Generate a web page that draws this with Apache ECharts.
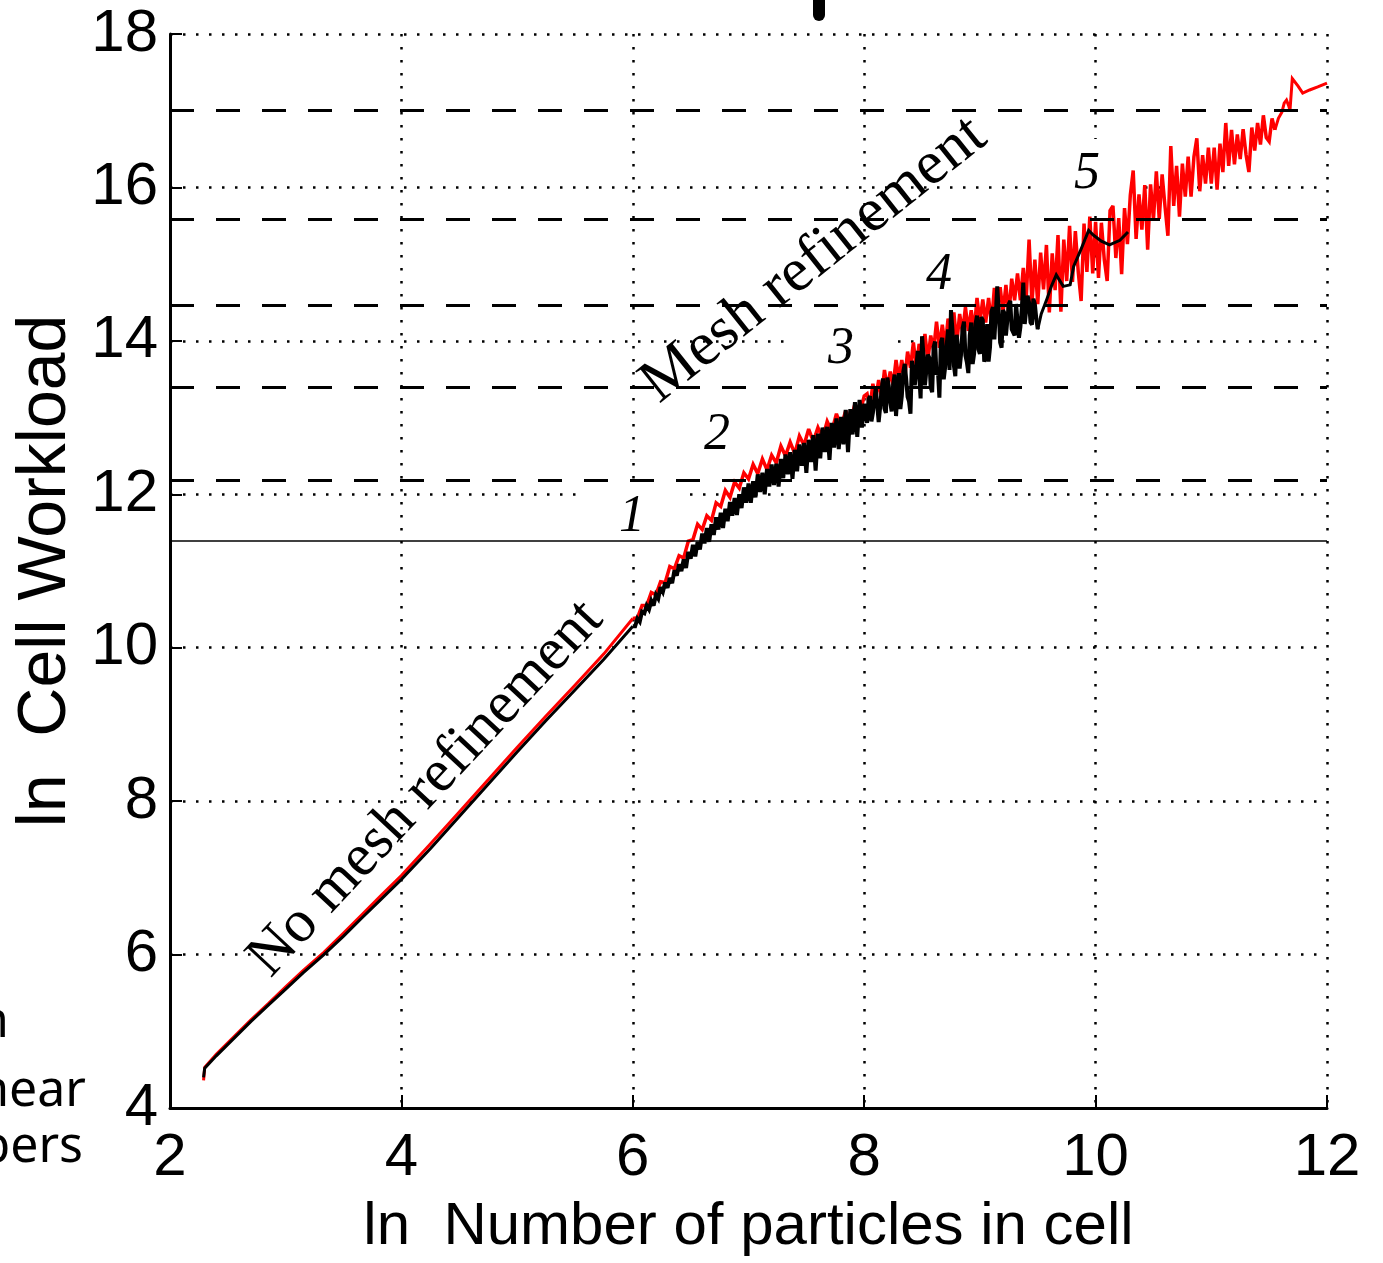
<!DOCTYPE html>
<html>
<head>
<meta charset="utf-8">
<script src="https://cdn.jsdelivr.net/npm/echarts@6/dist/echarts.min.js"></script>
<style>
  html, body { margin: 0; padding: 0; background: #ffffff; }
  #chart { width: 1383px; height: 1263px; }
</style>
</head>
<body>
<div id="chart"></div>
<script>
// Axis ranges (natural-log scales)
const xRange = [2, 12];
const yRange = [4, 18];
const tickStep = 2;

// Horizontal reference levels: dashed refinement thresholds and the solid base level
const refineLevels = [17.0, 15.58, 14.46, 13.40, 12.18];
const baseLevel = 11.40;
const stageNames = ['1', '2', '3', '4', '5'];

// Low-count region: explicit samples (x shared by both series)
const lowX      = [2.29, 2.30, 2.4, 2.5, 2.6, 2.7, 2.85, 3.0, 3.15, 3.33, 3.5, 3.66, 3.83, 4.0, 4.25, 4.5, 4.75, 5.0, 5.25, 5.5, 5.75];
const blackLowY = [4.40, 4.52, 4.68, 4.83, 4.98, 5.13, 5.34, 5.55, 5.76, 6.00, 6.24, 6.48, 6.73, 6.98, 7.38, 7.80, 8.22, 8.64, 9.05, 9.45, 9.85];
const redLowY   = [4.36, 4.53, 4.70, 4.85, 5.00, 5.15, 5.36, 5.58, 5.79, 6.03, 6.28, 6.52, 6.78, 7.03, 7.44, 7.86, 8.28, 8.70, 9.11, 9.51, 9.92];

// Black mid region sampled every 0.02 from x = 6.00 to 8.00
const blackSteepStart = 6.0, blackSteepStep = 0.02;
const blackSteepY = [
  10.28, 10.28, 10.38, 10.34, 10.47, 10.45, 10.55, 10.50, 10.61, 10.55,
  10.69, 10.64, 10.79, 10.73, 10.85, 10.78, 10.91, 10.84, 11.01, 10.94,
  11.09, 11.00, 11.15, 11.04, 11.25, 11.16, 11.34, 11.19, 11.38, 11.28,
  11.49, 11.36, 11.56, 11.38, 11.61, 11.47, 11.70, 11.54, 11.76, 11.56,
  11.81, 11.65, 11.90, 11.72, 11.95, 11.73, 12.00, 11.82, 12.09, 11.89,
  12.14, 11.89, 12.17, 11.96, 12.26, 12.03, 12.28, 12.00, 12.33, 12.10,
  12.39, 12.12, 12.40, 12.10, 12.46, 12.21, 12.52, 12.26, 12.55, 12.20,
  12.58, 12.30, 12.65, 12.37, 12.67, 12.28, 12.71, 12.42, 12.77, 12.31,
  12.79, 12.47, 12.87, 12.55, 12.88, 12.45, 12.93, 12.61, 12.99, 12.59,
  13.01, 12.65, 13.10, 12.55, 13.11, 12.78, 13.20, 12.75, 13.23, 12.87,
  13.18
];
// Black upper region sampled every 0.0125 from x = 8.0125 to 9.50
const blackFineStart = 8.0125, blackFineStep = 0.0125;
const blackFineY = [
  13.04, 12.93, 13.24, 13.28, 12.95, 13.06, 13.23, 13.39, 13.38, 12.94,
  13.13, 13.36, 13.51, 13.12, 13.06, 13.52, 13.41, 13.20, 13.08, 13.43,
  13.56, 13.02, 13.31, 13.58, 13.11, 13.28, 13.59, 13.70, 13.51, 13.27,
  13.21, 13.05, 13.74, 13.73, 13.42, 13.40, 13.87, 13.86, 13.25, 14.06,
  13.81, 13.42, 13.40, 13.82, 13.78, 13.39, 13.33, 13.92, 13.99, 13.56,
  13.60, 13.26, 13.98, 14.04, 13.50, 13.66, 13.94, 14.15, 13.62, 14.40,
  14.15, 13.68, 13.54, 14.08, 14.06, 13.64, 13.83, 14.16, 14.25, 13.81,
  13.72, 13.58, 14.07, 14.24, 13.70, 13.83, 14.22, 14.33, 13.89, 13.83,
  14.31, 14.27, 13.73, 13.79, 14.22, 13.73, 13.92, 14.38, 14.44, 14.02,
  14.03, 14.71, 14.39, 13.98, 13.91, 14.40, 14.36, 14.07, 14.05, 14.48,
  14.52, 14.15, 14.14, 14.07, 14.48, 14.50, 14.04, 14.18, 14.43, 14.76,
  14.22, 14.23, 14.59, 14.50, 14.24, 14.21, 14.55, 14.48, 14.29, 14.15
];

// Red mid region sampled every 0.04 from x = 6.00 to 8.00
const redSteepStart = 6.0, redSteepStep = 0.04;
const redSteepY = [
  10.38, 10.39, 10.55, 10.55, 10.72, 10.69, 10.86, 10.85, 11.06, 11.03,
  11.20, 11.17, 11.39, 11.41, 11.61, 11.54, 11.72, 11.66, 11.89, 11.84,
  12.05, 11.96, 12.16, 12.08, 12.28, 12.20, 12.39, 12.27, 12.46, 12.32,
  12.51, 12.41, 12.63, 12.50, 12.68, 12.53, 12.76, 12.64, 12.85, 12.69,
  12.87, 12.73, 12.95, 12.82, 13.05, 12.88, 13.09, 12.93, 13.18, 13.04,
  13.28
];
// Red upper region sampled every 0.025 from x = 8.025 to 11.55
const redFineStart = 8.025, redFineStep = 0.025;
const redFineY = [
  13.31, 13.13, 13.44, 13.25, 13.49, 13.26, 13.62, 13.38, 13.60, 13.42,
  13.75, 13.50, 13.75, 13.51, 13.86, 13.65, 13.98, 13.66, 13.96, 13.80,
  14.09, 13.74, 14.07, 13.88, 14.25, 13.91, 14.21, 13.93, 14.29, 14.05,
  14.37, 13.97, 14.35, 14.11, 14.44, 14.13, 14.40, 14.12, 14.56, 14.25,
  14.54, 14.24, 14.56, 14.22, 14.69, 14.42, 14.70, 14.37, 14.73, 14.33,
  14.81, 14.53, 14.88, 14.53, 14.95, 14.54
];
const redHighY = [
  15.32, 14.49, 15.06, 14.48, 15.15, 14.67, 15.25, 14.37, 15.14, 14.66,
  15.38, 14.38, 15.32, 14.78, 15.50, 14.77, 15.43, 14.90, 14.52, 15.53,
  14.90, 15.62, 14.88, 15.55, 14.82, 15.54, 15.06, 14.78, 15.70, 15.76,
  15.08, 15.60, 14.87, 15.73, 15.26, 15.90, 16.22, 15.33, 15.91, 15.45,
  16.03, 15.19, 16.04, 15.58, 16.21, 15.59, 16.17, 15.75, 15.37, 16.54,
  15.76, 16.28, 15.62, 16.31, 15.88, 16.40, 15.88, 16.40, 16.64, 15.95,
  16.42, 16.05, 16.52, 16.05, 16.52, 15.97, 16.57, 16.20, 16.84, 16.28,
  16.75, 16.30, 16.69, 16.37, 16.76, 16.43, 16.20, 16.78, 16.48, 16.84,
  16.56, 16.94, 16.65, 16.60, 16.90, 16.75
];

// Sparse tails
const blackTailX = [9.53, 9.58, 9.62, 9.66, 9.72, 9.78, 9.81, 9.87, 9.94, 9.98, 10.05, 10.12, 10.21, 10.28];
const blackTailY = [14.35, 14.55, 14.72, 14.86, 14.71, 14.73, 14.97, 15.18, 15.44, 15.38, 15.30, 15.25, 15.31, 15.42];
const redTailX = [11.58, 11.61, 11.63, 11.65, 11.67, 11.68, 11.70, 11.75, 11.79, 11.85, 11.92, 12.0];
const redTailY = [16.90, 16.98, 17.10, 17.14, 17.06, 17.00, 17.42, 17.32, 17.23, 17.27, 17.31, 17.36];

function zipXY(xs, ys) { return ys.map((y, i) => [xs[i], y]); }
function evenXY(x0, dx, ys) { return ys.map((y, i) => [+(x0 + i * dx).toFixed(4), y]); }

// Each curve is split so the scattered middle part can be stroked heavier
const blackLow = zipXY(lowX, blackLowY);
const blackNoisy = [].concat(
  evenXY(blackSteepStart, blackSteepStep, blackSteepY),
  evenXY(blackFineStart, blackFineStep, blackFineY)
);
const blackTail = [blackNoisy[blackNoisy.length - 1]].concat(zipXY(blackTailX, blackTailY));
blackLow.push(blackNoisy[0]);

const redLow = zipXY(lowX, redLowY);
const redNoisy = [].concat(
  evenXY(redSteepStart, redSteepStep, redSteepY),
  evenXY(redFineStart, redFineStep, redFineY.concat(redHighY))
);
redLow.push(redNoisy[0]);
const redTail = [redNoisy[redNoisy.length - 1]].concat(zipXY(redTailX, redTailY));

const sansFont = "'Liberation Sans', Arial, sans-serif";
const serifFont = "'Liberation Serif', 'Times New Roman', serif";
const noteFont = '50px "Noto Sans", sans-serif';

const chart = echarts.init(document.getElementById('chart'), null, { renderer: 'canvas' });

// Stage number tags: white box (hides the dotted grid) plus italic numeral
const stagePos = [[632, 517], [717, 435], [841, 349], [939, 275], [1087, 174]];
const stageGraphics = [];
stageNames.forEach((t, i) => {
  const [cx, cy] = stagePos[i];
  stageGraphics.push({
    type: 'rect', z: 1, silent: true,
    shape: { x: cx - 50, y: cy - 35, width: 100, height: 70 },
    style: { fill: '#ffffff' }
  });
  stageGraphics.push({
    type: 'text', z: 20, silent: true, x: cx, y: cy,
    style: { text: t, font: 'italic 52px ' + serifFont, fill: '#000',
             textAlign: 'center', textVerticalAlign: 'middle', align: 'center', verticalAlign: 'middle' }
  });
});

function noteText(text, x, y, align, font, rotDeg) {
  return {
    type: 'text', z: 20, silent: true, x: x, y: y,
    rotation: (rotDeg || 0) * Math.PI / 180,
    style: { text: text, font: font, fill: '#000',
             textAlign: align, textVerticalAlign: align === 'center' ? 'middle' : 'bottom',
             align: align, verticalAlign: align === 'center' ? 'middle' : 'bottom' }
  };
}

function curve(name, data, color, width, z) {
  return {
    name: name, type: 'line', data: data, z: z,
    symbol: 'none', showSymbol: false, silent: true,
    lineStyle: { color: color, width: width, join: 'miter', miterLimit: 3 }
  };
}

const option = {
  animation: false,
  backgroundColor: '#ffffff',
  grid: { left: 170, right: 56, top: 34, bottom: 155, containLabel: false },
  xAxis: {
    type: 'value', min: xRange[0], max: xRange[1], interval: tickStep,
    name: 'ln  Number of particles in cell',
    nameLocation: 'middle', nameGap: 89,
    nameTextStyle: { fontFamily: sansFont, fontSize: 60, color: '#000' },
    axisLine: { onZero: false, lineStyle: { color: '#000', width: 3 } },
    axisTick: { inside: true, length: 13, lineStyle: { color: '#000', width: 2 } },
    axisLabel: { fontFamily: sansFont, fontSize: 60, color: '#000', margin: 20 },
    splitLine: { show: true, lineStyle: { color: '#000', width: 2.5, type: [2.5, 10.5] } }
  },
  yAxis: {
    type: 'value', min: yRange[0], max: yRange[1], interval: tickStep,
    name: 'ln  Cell Workload',
    nameLocation: 'middle', nameGap: 73,
    nameTextStyle: { fontFamily: sansFont, fontSize: 68, color: '#000' },
    axisLine: { onZero: false, lineStyle: { color: '#000', width: 3 } },
    axisTick: { inside: true, length: 12, lineStyle: { color: '#000', width: 2 } },
    axisLabel: { fontFamily: sansFont, fontSize: 60, color: '#000', margin: 12 },
    splitLine: { show: true, lineStyle: { color: '#000', width: 2.5, type: [2.5, 10.5] } }
  },
  series: [
    curve('refined', redLow, '#ff0000', 3, 3),
    curve('refined', redNoisy, '#ff0000', 3.5, 3),
    curve('refined', redTail, '#ff0000', 3, 3),
    curve('uniform', blackLow, '#000000', 3, 4),
    curve('uniform', blackNoisy, '#000000', 4, 4),
    curve('uniform', blackTail, '#000000', 3, 4),
    {
      name: 'levels', type: 'line', data: [], z: 10, silent: true,
      markLine: {
        silent: true, symbol: ['none', 'none'], animation: false,
        label: { show: false },
        lineStyle: { color: '#000', width: 3.2, type: [24, 22] },
        data: refineLevels.map(v => ({ yAxis: v })).concat([
          { yAxis: baseLevel, lineStyle: { type: 'solid', width: 1.6, color: '#000' } }
        ])
      }
    }
  ],
  graphic: stageGraphics.concat([
    noteText('Mesh refinement', 814, 260, 'center', '62px ' + serifFont, 38.5),
    noteText('No mesh refinement', 426, 789, 'center', '60px ' + serifFont, 47),
    noteText('in', 9, 1048, 'right', noteFont),
    noteText('linear', 86, 1117, 'right', noteFont),
    noteText('numbers', 83, 1173, 'right', noteFont),
    {
      type: 'rect', z: 20, silent: true,
      shape: { x: 813, y: -14, width: 12, height: 35, r: 6 },
      style: { fill: '#000' }
    }
  ])
};

chart.setOption(option);
</script>
</body>
</html>
